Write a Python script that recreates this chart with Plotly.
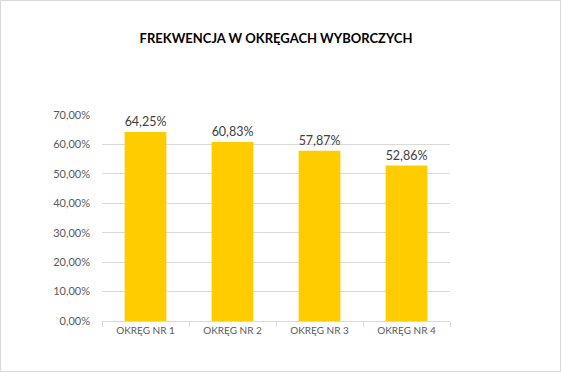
import plotly.graph_objects as go

categories = ["OKRĘG NR 1", "OKRĘG NR 2", "OKRĘG NR 3", "OKRĘG NR 4"]
turnout = [0.6425, 0.6083, 0.5787, 0.5286]
y_ticks = [0, 0.1, 0.2, 0.3, 0.4, 0.5, 0.6, 0.7]

W, H = 561, 372
L, R, T, B = 102, 111, 115, 51
pw, ph = W - L - R, H - T - B

fig = go.Figure(go.Bar(
    x=categories, y=turnout,
    marker=dict(color="#FFCC00", line=dict(width=0)),
    width=0.48,
    texttemplate="%{y:.2%}", textposition="outside",
    textfont=dict(family="Lato, Open Sans, sans-serif", size=13, color="#404040"),
    cliponaxis=False,
))

fig.update_layout(
    width=W, height=H,
    margin=dict(l=L, r=R, t=T, b=B, pad=0),
    paper_bgcolor="white", plot_bgcolor="white",
    separators=", ",
    showlegend=False,
    title=dict(text="<b>FREKWENCJA W OKRĘGACH WYBORCZYCH</b>",
               font=dict(family="Lato, Open Sans, sans-serif", size=13, color="#000000"),
               x=(L + pw / 2) / W, xanchor="center", y=1 - 38 / H, yanchor="middle"),
    font=dict(family="Lato, Open Sans, sans-serif", color="#595959"),
    shapes=[dict(type="rect", xref="paper", yref="paper",
                 x0=(0.5 - L) / pw, x1=(W - 0.5 - L) / pw,
                 y0=(T + ph - (H - 0.5)) / ph, y1=(T + ph - 0.5) / ph,
                 line=dict(color="#D9D9D9", width=1), fillcolor="rgba(0,0,0,0)", layer="below")],
)

fig.update_yaxes(range=[0, 0.7], tickvals=y_ticks, tickformat=".2%",
                 showgrid=True, gridcolor="#D9D9D9", gridwidth=1,
                 zeroline=False, showline=False, ticks="",
                 ticklabelstandoff=11,
                 tickfont=dict(size=11, color="#595959"))
fig.update_xaxes(showline=True, linecolor="#D9D9D9", linewidth=1,
                 ticks="outside", tickson="boundaries", ticklen=5, tickcolor="#D9D9D9",
                 showgrid=False,
                 tickfont=dict(size=10, color="#595959"))

fig.write_html("out.html", config={"displayModeBar": False},
               post_script="document.body.style.margin='0';document.body.style.overflow='hidden';")
